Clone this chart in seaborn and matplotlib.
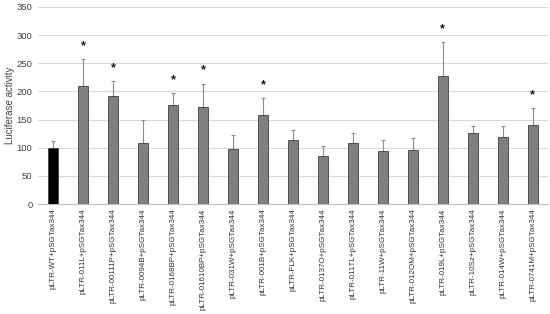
import numpy as np
import pandas as pd
import seaborn as sns
import matplotlib.pyplot as plt

labels = ["pLTR-WT+pSGTax344", "pLTR-011L+pSGTax344", "pLTR-00111P+pSGTax344",
          "pLTR-0094B+pSGTax344", "pLTR-0168BP+pSGTax344", "pLTR-01610BP+pSGTax344",
          "pLTR-031W+pSGTax344", "pLTR-001B+pSGTax344", "pLTR-FLK+pSGTax344",
          "pLTR-0137O+pSGTax344", "pLTR-011TL+pSGTax344", "pLTR-11W+pSGTax344",
          "pLTR-012OM+pSGTax344", "pLTR-019L+pSGTax344", "pLTR-10Sz+pSGTax344",
          "pLTR-014W+pSGTax344", "pLTR-0741M+pSGTax344"]
activity = [99, 210, 191, 109, 176, 172, 97, 158, 113, 86, 108, 95, 96, 228, 126, 119, 140]
err = [13, 48, 28, 41, 21, 42, 25, 30, 18, 18, 19, 18, 22, 59, 13, 20, 31]
signif = [False, True, True, False, True, True, False, True, False, False, False, False,
          False, True, False, False, True]

df = pd.DataFrame({"label": labels, "activity": activity})
colors = ["#000000"] + ["#7f7f7f"] * (len(labels) - 1)

sns.set_style("white")
plt.rcParams['font.family'] = ['Liberation Sans', 'DejaVu Sans']
fig = plt.figure(figsize=(5.5, 3.14), dpi=100)
ax = fig.add_axes([0.069, 0.35, 0.927, 0.628])

sns.barplot(data=df, x="label", y="activity", hue="label", palette=colors, legend=False,
            width=0.32, edgecolor="#404040", linewidth=0.6, errorbar=None, ax=ax, zorder=3)

x = np.arange(len(labels))
ax.errorbar(x, activity, yerr=[np.zeros(len(err)), err], fmt="none",
            ecolor="#8c8c8c", elinewidth=0.8, capsize=1.5, capthick=0.8, zorder=2)

for i in range(len(labels)):
    if signif[i]:
        ax.annotate("*", (x[i], activity[i] + err[i]), xytext=(0, 5),
                    textcoords="offset points", ha="center", va="bottom",
                    fontsize=9, fontweight="bold", color="#1a1a1a")

ax.set_ylim(0, 350)
ax.set_yticks(range(0, 351, 50))
ax.set_xlim(-0.5, len(labels) - 0.5)
ax.yaxis.grid(True, color="#d9d9d9", linewidth=0.8, zorder=0)
ax.set_axisbelow(True)
for s in ["top", "right", "left"]:
    ax.spines[s].set_visible(False)
ax.spines["bottom"].set_color("#bfbfbf")
ax.tick_params(axis="y", length=0, labelsize=6.8, colors="#404040", pad=4)
ax.tick_params(axis="x", length=0, labelsize=5.8, colors="#303030", pad=3)
plt.setp(ax.get_xticklabels(), rotation=90)
ax.set_xlabel("")
ax.set_ylabel("Luciferase activity", fontsize=7, color="#404040")
ax.yaxis.set_label_coords(-0.045, 0.5)

fig.savefig("out.png", dpi=100)
